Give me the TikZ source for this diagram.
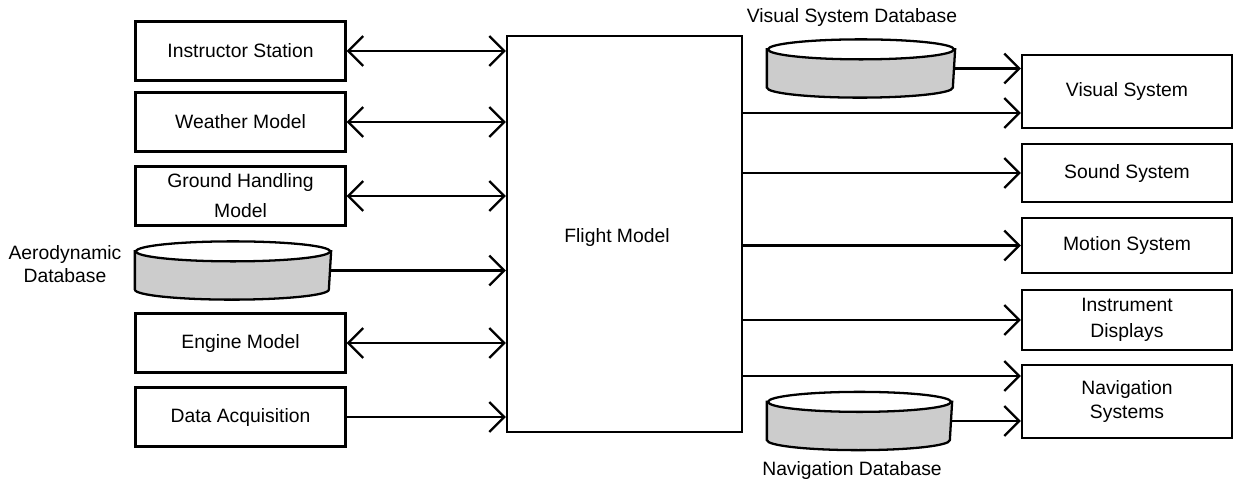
\documentclass[tikz,border=0pt]{standalone}
\usepackage{fontspec}
\setmainfont{Liberation Sans}
\usepackage{tikz}
\usetikzlibrary{arrows.meta,calc}

% database disk drawn on an invisible box node
\newcommand{\dbdisk}[2]{%
  \draw[fill=gray!40] ([yshift=-0.2cm]#1.north west) -- ([yshift=0.2cm]#1.south west)
    arc[start angle=180, end angle=360, x radius=#2, y radius=0.2cm]
    -- ([yshift=-0.2cm]#1.north east) -- cycle;
  \draw[fill=white] ([yshift=-0.2cm]#1.north) ellipse [x radius=#2, y radius=0.2cm];
}

\begin{document}
\begin{tikzpicture}[x=0.02cm, y=0.02cm, line width=1.3pt,
    font=\fontsize{11}{13}\selectfont,
    block/.style={draw, minimum width=4.2cm, minimum height=1.18cm, align=center, inner sep=1pt},
    disk/.style={minimum height=1.12cm, inner sep=0pt},
    flow/.style={-{Straight Barb[length=0.3cm, width=0.6cm]}},
    both/.style={{Straight Barb[length=0.3cm, width=0.6cm]}-{Straight Barb[length=0.3cm, width=0.6cm]}}]
        \useasboundingbox (0,0) rectangle (1248,-484);

        % left side
        \node[block] (instr) at (240.5,-51) {Instructor Station};
        \node[block] (weather) at (240.5,-122) {Weather Model};
        \node[block] (ground) at (240.5,-196) {Ground Handling\\[4pt] Model};
        \node[disk, minimum width=3.88cm] (aero) at (233,-270.5) {};
        \node[align=center] (aerolbl) at (65,-264) {Aerodynamic\\ Database};
        \node[block] (engine) at (240.5,-343) {Engine Model};
        \node[block] (daq) at (240.5,-417) {Data Acquisition};

        % flight model
        \node[draw, minimum width=4.7cm, minimum height=7.92cm] (fm) at (624.5,-234) {};
        \node (fmlbl) at (617,-237) {Flight Model};

        % right side
        \node[block, minimum height=1.46cm] (vis) at (1127,-91.5) {Visual System};
        \node[block, minimum height=1.16cm] (snd) at (1127,-173) {Sound System};
        \node[block, minimum height=1.1cm] (mot) at (1127,-245.5) {Motion System};
        \node[block, minimum height=1.2cm] (instd) at (1127,-320) {Instrument\\[2pt] Displays};
        \node[block, minimum height=1.46cm] (nav) at (1127,-401.5) {Navigation\\[1pt] Systems};
        \node[disk, minimum width=3.72cm] (vdb) at (861,-68.5) {};
        \node (vdblbl) at (852,-17) {Visual System Database};
        \node[disk, minimum width=3.66cm] (ndb) at (859.5,-421) {};
        \node (ndblbl) at (852,-470) {Navigation Database};

        \dbdisk{aero}{1.94cm}
        \dbdisk{vdb}{1.86cm}
        \dbdisk{ndb}{1.83cm}

        % connectors into the flight model
        \draw[both] (instr.east) -- (fm.west |- instr.east);
        \draw[both] (weather.east) -- (fm.west |- weather.east);
        \draw[both] (ground.east) -- (fm.west |- ground.east);
        \draw[flow] (aero.east) -- (fm.west |- aero.east);
        \draw[both] (engine.east) -- (fm.west |- engine.east);
        \draw[flow] (daq.east) -- (fm.west |- daq.east);

        % connectors out of the flight model
        \draw[flow] (vdb.east) -- (vis.west |- vdb.east);
        \draw[flow] ($(fm.east |- vis.west)+(0,-21.5)$) -- ($(vis.west)+(0,-21.5)$);
        \draw[flow] (fm.east |- snd.west) -- (snd.west);
        \draw[flow] (fm.east |- mot.west) -- (mot.west);
        \draw[flow] (fm.east |- instd.west) -- (instd.west);
        \draw[flow] ($(fm.east |- nav.west)+(0,25.5)$) -- ($(nav.west)+(0,25.5)$);
        \draw[flow] (ndb.east) -- (nav.west |- ndb.east);
    \end{tikzpicture}
\end{document}
